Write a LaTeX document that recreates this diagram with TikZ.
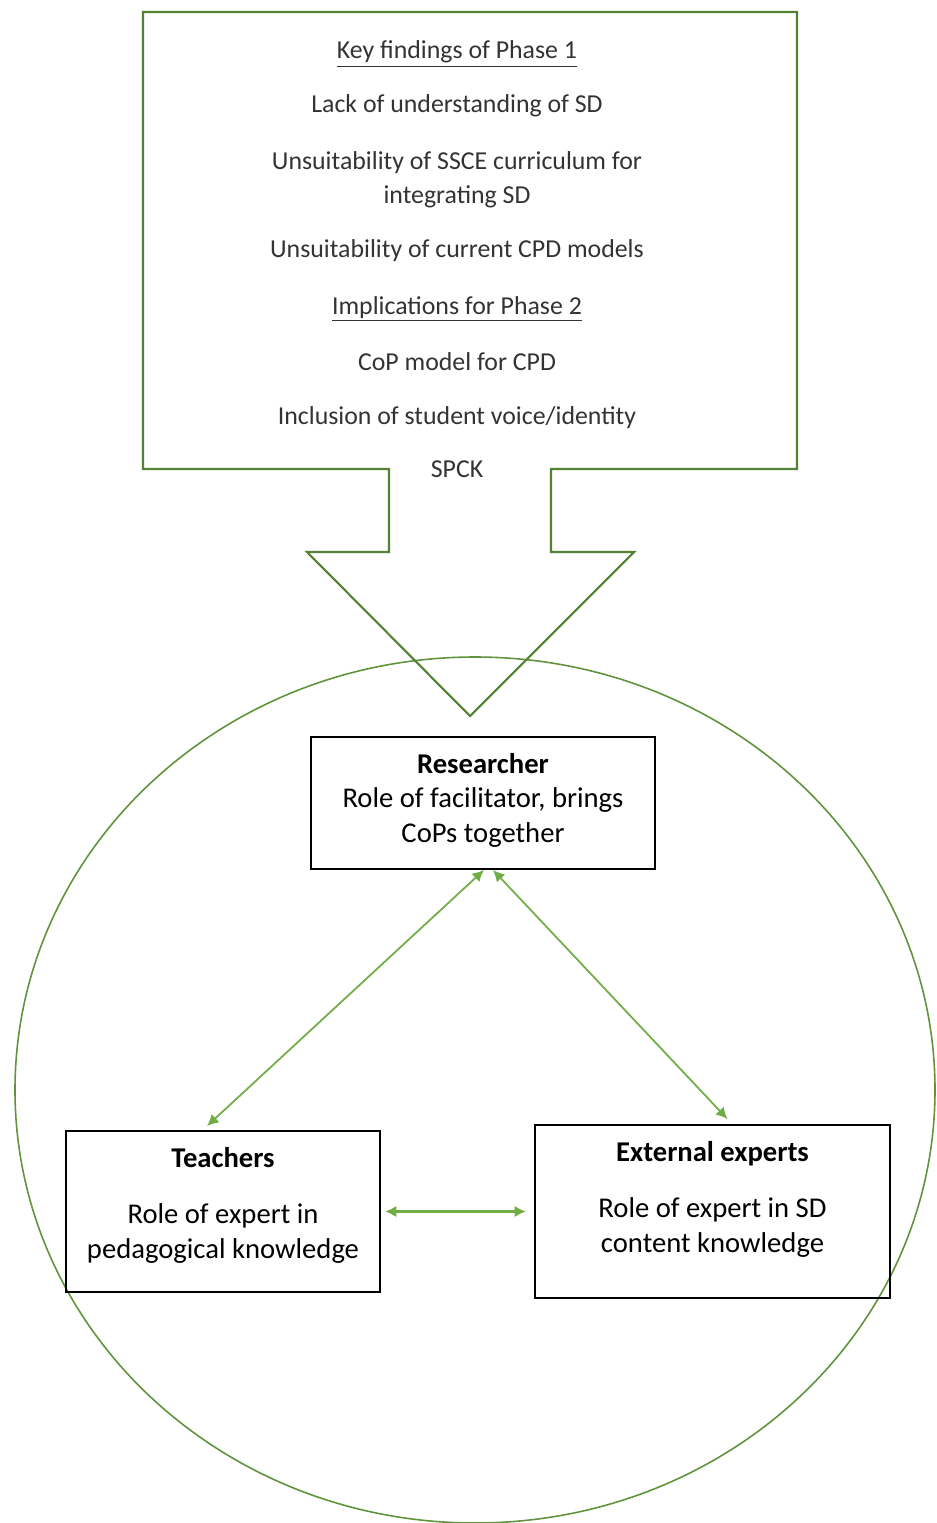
\documentclass[tikz,border=0pt]{standalone}
\usepackage{fontspec}
\setmainfont{Carlito}
\usetikzlibrary{arrows.meta,positioning}
\definecolor{darkgrn}{RGB}{84,130,53}
\definecolor{litegrn}{RGB}{112,173,71}
\tikzset{
rolebox/.style={
  draw=black,
  line width=1.1pt,
  align=center,
  inner sep=0pt,
  font=\fontsize{16.3}{19.8}\selectfont,
  }
}
\tikzset{
findtxt/.style={
  text=black!80,
  font=\fontsize{14.7}{19.3}\selectfont,
  align=center,
  }
}
\tikzset{
twoway/.style={
  line width=1pt,
  draw=litegrn,
  {Latex[length=2.3mm,width=2.3mm]}-{Latex[length=2.3mm,width=2.3mm]}
  }
}

\begin{document}
\begin{tikzpicture}[x=0.02cm,y=-0.02cm]
    \useasboundingbox (0,0) rectangle (936,1523);

    % community circle
    \draw[litegrn!85!black, line width=0.9pt] (475,1090) ellipse [x radius=460, y radius=433];

    % arrow callout of phase 1
    \draw[darkgrn, line width=1.2pt, line join=miter]
      (143,12) -- (797,12) -- (797,469) -- (551,469) -- (551,552) -- (634,552)
      -- (470,716) -- (307,552) -- (389,552) -- (389,469) -- (143,469) -- cycle;

    % findings text
    \node[findtxt] (keyfind) at (457,54) {\underline{Key findings of Phase 1}};
    \node[findtxt] (lack) at (457,106) {Lack of understanding of SD};
    \node[findtxt] (sscecur) at (457,180) {Unsuitability of SSCE curriculum for\\integrating SD};
    \node[findtxt] (cpdmod) at (457,251) {Unsuitability of current CPD models};
    \node[findtxt] (implic) at (457,309) {\underline{Implications for Phase 2}};
    \node[findtxt] (copmod) at (457,362) {CoP model for CPD};
    \node[findtxt] (voice) at (457,418) {Inclusion of student voice/identity};
    \node[findtxt] (spck) at (457,469) {SPCK};

    % community of practice
    \node[rolebox, minimum width=6.88cm, minimum height=2.64cm] (res) at (483,803)
      {\textbf{Researcher}\\Role of facilitator, brings\\CoPs together\\[-14pt]};
    \node[rolebox, minimum width=6.28cm, minimum height=3.22cm] (teach) at (223,1211.5)
      {\textbf{Teachers}\\[0.44cm]Role of expert in\\pedagogical knowledge\\[-10pt]};
    \node[rolebox, minimum width=7.1cm, minimum height=3.46cm] (extexp) at (712.5,1211.5)
      {\textbf{External experts}\\[0.44cm]Role of expert in SD\\content knowledge\\[-3pt]};

    % two-way links
    \draw[twoway] ([xshift=0.02cm]res.south) -- ([xshift=-0.32cm,yshift=0.08cm]teach.north);
    \draw[twoway] ([xshift=0.2cm]res.south) -- ([xshift=0.3cm,yshift=0.1cm]extexp.north);
    \draw[twoway, line width=1.6pt] ([xshift=0.08cm]teach.east) -- ([xshift=-0.16cm]extexp.west);
\end{tikzpicture}
\end{document}
